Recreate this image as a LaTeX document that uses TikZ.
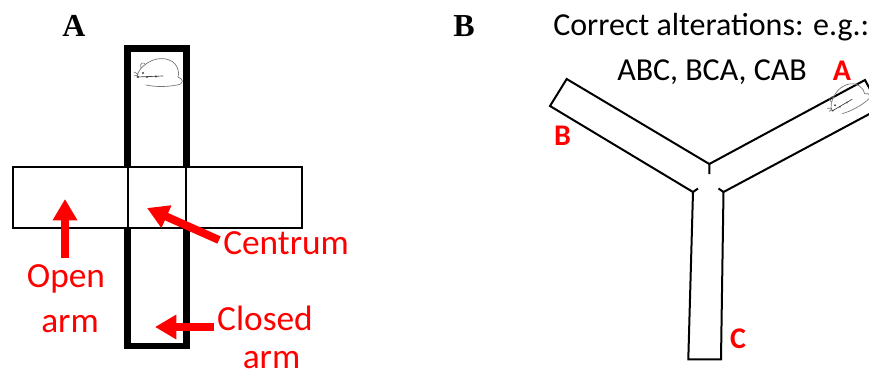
\documentclass[tikz,border=0pt]{standalone}
\usepackage{fontspec}
\setmainfont{Liberation Serif}
\newfontfamily\calib{Carlito}
\usetikzlibrary{arrows.meta}
\begin{document}
\begin{tikzpicture}[x={(0.75pt,0)}, y={(0,-0.75pt)},
  thinwall/.style={line width=1.1pt, line join=miter},
  thickwall/.style={line width=4.9pt, line join=miter},
  ymaze/.style={line width=1.5pt, line join=miter},
  pointer/.style={draw=red, line width=6pt, -{Triangle[width=17.5pt,length=16pt]}},
  redlabel/.style={text=red, font=\calib\fontsize{26.5}{30}\selectfont, inner sep=0, anchor=base},
  armlabel/.style={text=red, font=\calib\bfseries\fontsize{22.5}{26}\selectfont, inner sep=0, anchor=base},
  note/.style={font=\calib\fontsize{24}{28}\selectfont, inner sep=0, anchor=base west},
  panel/.style={font=\bfseries\fontsize{24}{28}\selectfont, inner sep=0, anchor=base},
  rodent/.style={draw=black!55, line width=0.5pt, line cap=round, line join=round},
  mouse/.pic={
    % head, back and rump
    \draw[rodent] (0,0) .. controls (0,-5) and (5,-11) .. (12,-15)
      .. controls (22,-21) and (36,-19) .. (40,-10)
      .. controls (42,-5) and (42,-2) .. (41,0);
    % ear
    \draw[rodent] (4,-9) .. controls (2,-14) and (7,-16) .. (9,-12);
    % whiskers
    \draw[rodent] (1,-3) -- (-3,-5) (1,-2) -- (-3,-1);
    % feet line
    \draw[rodent, draw=black!75] (0,0) -- (26,-1);
    \fill[black!75] (6,-4) circle[radius=0.9pt] (1,0) circle[radius=0.8pt]
      (10,0) circle[radius=0.8pt] (19,-0.5) circle[radius=0.8pt];
    % tail
    \draw[rodent] (41,0) .. controls (47,2) and (47,7) .. (40,8)
      .. controls (30,10) and (18,10) .. (9,8);
  }
]
\useasboundingbox (0,0) rectangle (869,376);
\clip (0,0) rectangle (869,376);

% ---------- panel A: elevated plus maze ----------
\node[panel] (labA) at (74,36.5) {A};

% closed arms (thick walls)
\draw[thickwall] (127.5,167) -- (127.5,48.5) -- (186.5,48.5) -- (186.5,167);
\draw[thickwall] (127.5,228) -- (127.5,345.8) -- (186.5,345.8) -- (186.5,228);
% open arms and centre square
\draw[thinwall] (13,167) rectangle (302,228);
\draw[thinwall] (128,167) -- (128,228) (186,167) -- (186,228);

\pic at (137,77) {mouse};

% pointers
\coordinate (openTail) at (65,258);
\coordinate (openTip) at (65,199);
\coordinate (centTail) at (219,240);
\coordinate (centTip) at (147,208);
\coordinate (closedTail) at (214,327);
\coordinate (closedTip) at (155,327);
\draw[pointer] (openTail) -- (openTip);
\draw[pointer] (centTail) -- (centTip);
\draw[pointer] (closedTail) -- (closedTip);

\node[redlabel] (open1) at (66,287) {Open};
\node[redlabel] (open2) at (70,332) {arm};
\node[redlabel, anchor=base west] (centrum) at (223,254) {Centrum};
\node[redlabel] (closed1) at (265,330) {Closed};
\node[redlabel] (closed2) at (271.5,368.5) {arm};

% ---------- panel B: Y maze ----------
\node[panel] (labB) at (464,36.5) {B};
\node[note] (rule) at (553,35) {Correct alterations: e.g.:};
\node[note] (seqs) at (617,80) {ABC, BCA, CAB};

\draw[ymaze] (709.3,174) -- (709.3,164) -- (566.7,79) -- (550,106) -- (693,192) -- (698,188.5);
\draw[ymaze] (709.3,164) -- (865,80) -- (880.2,108.2) -- (723.5,192) -- (718.5,188.5);
\draw[ymaze] (693,192) -- (688.3,359.3) -- (721,359.3) -- (723.5,192);

\pic[rotate=28, scale=0.9] at (832,111) {mouse};

\node[armlabel] (armA) at (842,80) {A};
\node[armlabel] (armB) at (562.5,145) {B};
\node[armlabel] (armC) at (738,348) {C};
\end{tikzpicture}
\end{document}
